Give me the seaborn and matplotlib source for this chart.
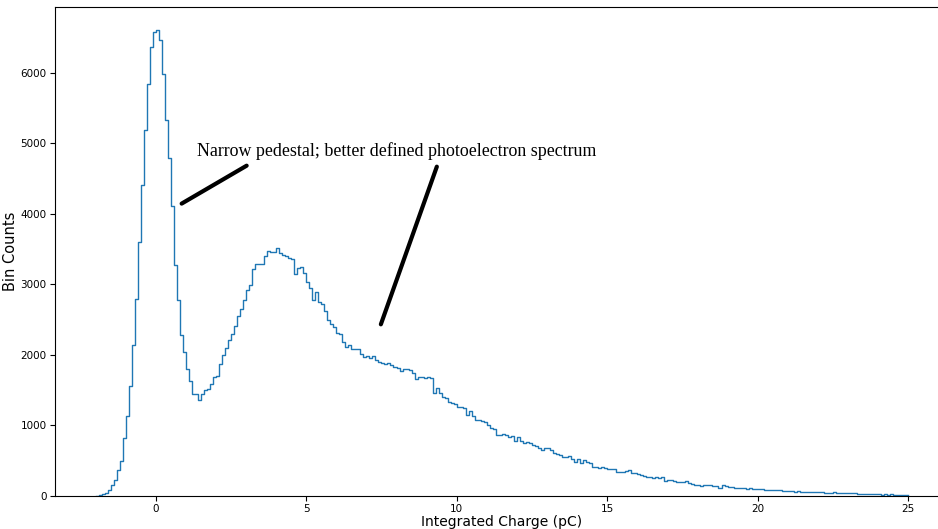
import numpy as np
import pandas as pd
import matplotlib
matplotlib.use("Agg")
import matplotlib.pyplot as plt
import seaborn as sns

# Histogram binning (pC)
bin_start = -2.0
bin_width = 0.1

# Bin counts, one value per 0.1 pC bin
counts_pedestal = [  # -2.0 .. 0.9 pC
    5, 15, 30, 45, 90, 150, 230, 368, 500, 820,
    1135, 1560, 2140, 2797, 3600, 4410, 5193, 5849, 6372, 6580,
    6604, 6463, 5981, 5330, 4793, 4118, 3269, 2773, 2278, 2042,
]
counts_single_pe = [  # 1.0 .. 5.9 pC
    1797, 1625, 1453, 1453, 1358, 1443, 1500, 1524, 1585, 1689,
    1698, 1868, 1995, 2099, 2217, 2302, 2405, 2547, 2655, 2773,
    2925, 2986, 3222, 3293, 3293, 3293, 3410, 3471, 3460, 3460,
    3519, 3443, 3424, 3410, 3377, 3360, 3151, 3240, 3245, 3160,
    3033, 2948, 2773, 2895, 2755, 2717, 2620, 2500, 2443, 2396,
]
counts_shoulder = [  # 6.0 .. 11.9 pC
    2311, 2300, 2184, 2110, 2140, 2090, 2085, 2080, 2019, 1972,
    1990, 1962, 1990, 1934, 1900, 1887, 1870, 1887, 1860, 1830,
    1820, 1774, 1800, 1800, 1790, 1745, 1665, 1690, 1685, 1679,
    1690, 1670, 1462, 1538, 1462, 1405, 1395, 1335, 1320, 1300,
    1255, 1255, 1250, 1150, 1200, 1135, 1075, 1075, 1070, 1045,
    1000, 960, 950, 865, 863, 873, 863, 830, 849, 783,
]
counts_tail = [  # 12.0 .. 24.9 pC
    840, 783, 755, 769, 745, 722, 708, 674, 651, 674,
    684, 651, 604, 594, 580, 547, 557, 566, 519, 486,
    519, 472, 509, 486, 472, 415, 406, 392, 406, 392,
    377, 377, 377, 344, 344, 344, 358, 368, 321, 330,
    311, 297, 283, 273, 273, 259, 264, 250, 273, 217,
    226, 226, 217, 203, 193, 193, 215, 179, 165, 158,
    150, 142, 151, 156, 150, 142, 135, 118, 150, 140,
    132, 125, 118, 110, 115, 120, 105, 108, 100, 104,
    95, 94, 90, 88, 85, 85, 84, 78, 76, 75,
    68, 64, 62, 74, 58, 60, 62, 56, 55, 52,
    50, 55, 48, 47, 46, 50, 47, 44, 40, 45,
    38, 36, 38, 30, 28, 32, 28, 26, 30, 28,
    24, 20, 25, 18, 22, 20, 18, 17, 19, 15,
]

x_label = "Integrated Charge (pC)"
y_label = "Bin Counts"
note_text = "Narrow pedestal; better defined photoelectron spectrum"
# note position and the two pointer lines (charge, counts)
note_xy = (1.36, 4890)
pointer_pedestal = ((0.86, 4146), (3.02, 4684))
pointer_spectrum = ((7.48, 2434), (9.34, 4670))

counts = np.concatenate([counts_pedestal, counts_single_pe,
                         counts_shoulder, counts_tail]).astype(float)
edges = bin_start + bin_width * np.arange(len(counts) + 1)
centers = 0.5 * (edges[:-1] + edges[1:])
df = pd.DataFrame({"charge": centers, "count": counts})

fig = plt.figure(figsize=(9.38, 5.29), dpi=100)
ax = fig.add_axes([0.0586, 0.0624, 0.9528, 0.9244])

sns.histplot(data=df, x="charge", weights="count",
             bins=[float(e) for e in edges],
             element="step", fill=False, color="#1f77b4",
             linewidth=1.0, ax=ax)

span = edges[-1] - edges[0]
ax.set_xlim(edges[0] - 0.05 * span, edges[-1] + 0.05 * span)
ax.set_ylim(0, counts.max() * 1.05)
ax.set_xlabel(x_label, fontsize=10, labelpad=0.5)
ax.set_ylabel(y_label, fontsize=10.5, labelpad=1.5)
ax.tick_params(labelsize=7.5, pad=2.5)

ax.text(note_xy[0], note_xy[1], note_text, fontsize=12.9,
        family=["Liberation Serif", "DejaVu Serif"], ha="left", va="center")
for start, end in (pointer_pedestal, pointer_spectrum):
    ax.annotate("", xy=start, xytext=end,
                arrowprops=dict(arrowstyle="-", lw=3, color="black",
                                shrinkA=0, shrinkB=0))

fig.savefig("out.png", dpi=100)
